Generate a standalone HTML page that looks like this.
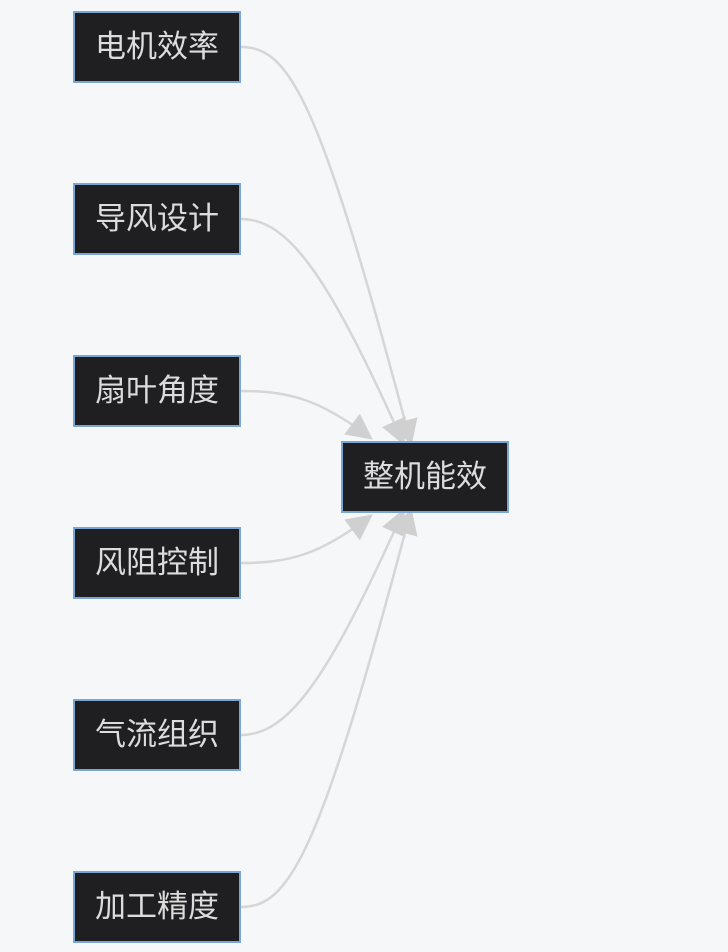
<!DOCTYPE html>
<html><head><meta charset="utf-8"><style>
body{margin:0;background:#f6f7f9;width:728px;height:952px;overflow:hidden;position:relative;font-family:"Liberation Sans","Noto Sans CJK SC",sans-serif}
.n{position:absolute;width:164px;height:68px;background:#1f1e20;border:2px solid #7aa6d6;color:#dcdcdc;font-size:31px;line-height:68px;text-align:center}
svg{position:absolute;left:0;top:0}
</style></head><body>
<svg width="728" height="952">
<defs>
<marker id="b" markerWidth="26" markerHeight="26" refX="20" refY="13" orient="auto" markerUnits="userSpaceOnUse" viewBox="0 0 26 26"><path d="M0,0L26,13L0,26z" fill="#d0d0d0"/></marker></defs>
<g fill="none" stroke="#d6d6d6" stroke-width="2.5">
<path d="M241,47 C290,47 320,100 410,440" marker-end="url(#b)"/>
<path d="M241,219 C290,219 330,280 402,440" marker-end="url(#b)"/>
<path d="M241,391 C290,391 320,400 368,436" marker-end="url(#b)"/>
<path d="M241,563 C290,563 320,554 368,518" marker-end="url(#b)"/>
<path d="M241,735 C290,735 330,674 402,514" marker-end="url(#b)"/>
<path d="M241,907 C290,907 320,854 410,514" marker-end="url(#b)"/>
</g></svg>
<div class="n" style="left:73px;top:11px">电机效率</div>
<div class="n" style="left:73px;top:183px">导风设计</div>
<div class="n" style="left:73px;top:355px">扇叶角度</div>
<div class="n" style="left:73px;top:527px">风阻控制</div>
<div class="n" style="left:73px;top:699px">气流组织</div>
<div class="n" style="left:73px;top:871px">加工精度</div>
<div class="n" style="left:341px;top:441px">整机能效</div>
</body></html>
